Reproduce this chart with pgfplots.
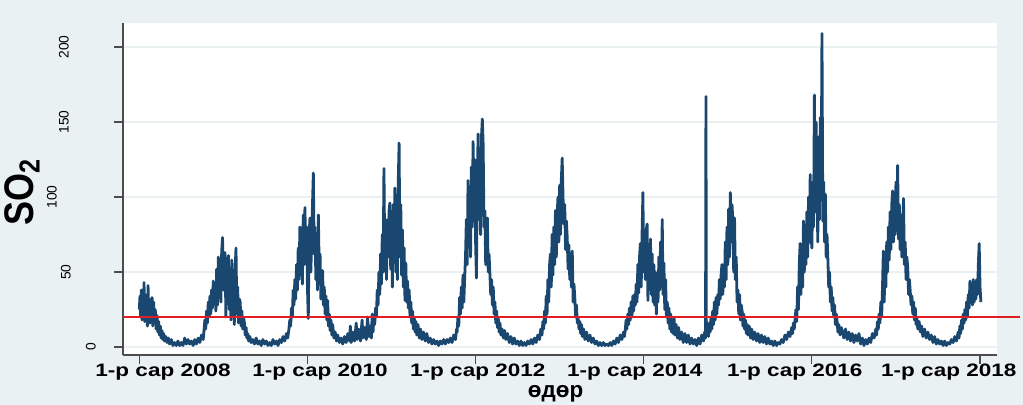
\documentclass[border=0pt]{standalone}
\usepackage{fontspec}
\setmainfont{Liberation Sans}
\usepackage{graphicx}
\usepackage{pgfplots}
\pgfplotsset{compat=1.18}
\definecolor{bgc}{RGB}{234,241,243}
\definecolor{navy}{RGB}{26,71,111}
\definecolor{refred}{RGB}{225,30,35}
\definecolor{gridc}{RGB}{234,240,242}
\begin{document}
\begin{tikzpicture}
\fill[bgc] (0,0) rectangle (511.5pt,202.5pt);
\begin{axis}[
  at={(61.5pt,25pt)}, anchor=south west,
  scale only axis, width=437pt, height=166pt,
  xmin=2007.806, xmax=2018.202, ymin=-5.3, ymax=216,
  axis background/.style={fill=white},
  axis x line*=bottom, axis y line*=left,
  axis line style={black!70, line width=0.6pt},
  tick align=outside, major tick length=4.5pt,
  tick style={black!70, line width=0.6pt},
  xtick={2008,2010,2012,2014,2016,2018},
  xticklabels={,,,,,},
  extra x ticks={2008.282,2010.149,2012.027,2013.894,2015.797,2017.628},
  extra x tick labels={\scalebox{1}[0.8]{1-р сар 2008},\scalebox{1}[0.8]{1-р сар 2010},\scalebox{1}[0.8]{1-р сар 2012},\scalebox{1}[0.8]{1-р сар 2014},\scalebox{1}[0.8]{1-р сар 2016},\scalebox{1}[0.8]{1-р сар 2018}},
  extra x tick style={major tick length=0pt, tick style={draw=none}},
  ytick={0,50,100,150,200},
  yticklabels={\raisebox{0pt}{0},\raisebox{12.5pt}{50},\raisebox{19.5pt}{100},\raisebox{13.5pt}{150},\raisebox{13.5pt}{200}},
  ymajorgrids, grid style={gridc, line width=0.6pt},
  xticklabel style={anchor=north, inner sep=0pt, yshift=-4.5pt, font=\fontsize{11.25}{12}\selectfont\bfseries},
  yticklabel style={xshift=-9pt, rotate=90, anchor=south, inner sep=0pt, font=\fontsize{6.9}{8}\selectfont},
  xlabel={өдөр},
  ylabel={\scalebox{1}[1.15]{SO\textsubscript{2}}},
  xlabel style={at={(axis description cs:0.495,-0.117)}, anchor=center, inner sep=0pt, font=\fontsize{11.2}{13}\selectfont\bfseries},
  ylabel style={at={(axis description cs:-0.1156,0.491)}, anchor=center, inner sep=0pt, font=\fontsize{18}{20}\selectfont\bfseries},
  clip=false,
]
\addplot[navy, line width=1.4pt, line join=round] coordinates {
(2008.000,25) (2008.008,34) (2008.016,20) (2008.024,38) (2008.032,18) (2008.040,30) (2008.048,22) (2008.056,43) (2008.064,17) (2008.072,35)
(2008.080,24) (2008.088,28) (2008.096,14) (2008.104,41) (2008.112,20) (2008.120,32) (2008.128,16) (2008.136,27) (2008.144,19) (2008.152,33)
(2008.160,14) (2008.170,30) (2008.180,16) (2008.190,25) (2008.200,12) (2008.210,21) (2008.220,10) (2008.230,17) (2008.240,8) (2008.250,14)
(2008.260,6) (2008.270,11) (2008.280,5) (2008.290,9) (2008.300,4) (2008.315,7) (2008.330,3) (2008.345,6) (2008.360,2) (2008.380,5)
(2008.400,1) (2008.420,3) (2008.440,1) (2008.460,4) (2008.480,1) (2008.500,3) (2008.520,1) (2008.540,6) (2008.560,2) (2008.580,5)
(2008.600,2) (2008.620,4) (2008.640,1) (2008.660,5) (2008.680,2) (2008.700,6) (2008.720,3) (2008.740,8) (2008.760,5)
(2008.780,18) (2008.790,12) (2008.800,24) (2008.810,16) (2008.820,30) (2008.830,20) (2008.840,34) (2008.850,22) (2008.860,38) (2008.870,26)
(2008.880,44) (2008.890,30) (2008.900,42) (2008.910,24) (2008.920,52) (2008.930,28) (2008.940,60) (2008.950,34) (2008.960,55) (2008.970,30)
(2008.980,64) (2008.990,73) (2009.000,38) (2009.010,58) (2009.020,63) (2009.030,20) (2009.040,55) (2009.050,30) (2009.060,61) (2009.070,25)
(2009.080,50) (2009.090,18) (2009.100,58) (2009.110,28) (2009.120,45) (2009.130,15) (2009.140,52) (2009.150,66) (2009.160,22) (2009.170,40)
(2009.180,16) (2009.190,32) (2009.200,30) (2009.210,14) (2009.220,24) (2009.230,12) (2009.240,20) (2009.250,16) (2009.260,8) (2009.270,13)
(2009.280,6) (2009.290,9) (2009.300,4) (2009.315,7) (2009.330,3) (2009.350,5) (2009.370,2) (2009.390,6) (2009.410,2) (2009.430,4)
(2009.450,1) (2009.470,5) (2009.490,2) (2009.510,4) (2009.530,1) (2009.550,3) (2009.570,1) (2009.590,5) (2009.610,2) (2009.630,4)
(2009.650,1) (2009.670,5) (2009.690,3) (2009.710,7) (2009.730,4) (2009.750,9) (2009.765,6)
(2009.780,12) (2009.790,18) (2009.800,14) (2009.810,26) (2009.820,20) (2009.830,38) (2009.840,28) (2009.850,45) (2009.860,32) (2009.870,55)
(2009.880,38) (2009.890,66) (2009.900,45) (2009.910,80) (2009.920,50) (2009.930,72) (2009.940,42) (2009.950,88) (2009.960,55) (2009.970,93)
(2009.980,60) (2009.990,80) (2010.000,40) (2010.010,19) (2010.020,75) (2010.030,86) (2010.040,50) (2010.050,70) (2010.060,95) (2010.070,116)
(2010.080,62) (2010.090,80) (2010.100,45) (2010.110,70) (2010.120,38) (2010.130,88) (2010.140,50) (2010.150,62) (2010.160,32) (2010.170,45)
(2010.180,51) (2010.190,28) (2010.200,40) (2010.210,22) (2010.220,34) (2010.230,18) (2010.240,31) (2010.250,14) (2010.260,22) (2010.270,11)
(2010.280,18) (2010.290,8) (2010.300,15) (2010.315,6) (2010.330,10) (2010.345,4) (2010.360,8) (2010.380,3) (2010.400,6) (2010.420,2)
(2010.440,7) (2010.460,3) (2010.480,9) (2010.500,4) (2010.510,14) (2010.520,3) (2010.540,10) (2010.560,4) (2010.580,16) (2010.590,5)
(2010.610,12) (2010.630,4) (2010.650,18) (2010.660,6) (2010.680,13) (2010.700,5) (2010.715,20) (2010.730,7) (2010.745,14) (2010.760,6)
(2010.770,22) (2010.780,10) (2010.790,20) (2010.800,15) (2010.810,26) (2010.820,20) (2010.830,38) (2010.840,28) (2010.850,50) (2010.860,35)
(2010.870,62) (2010.880,42) (2010.890,75) (2010.900,50) (2010.910,119) (2010.920,55) (2010.930,85) (2010.940,45) (2010.950,78) (2010.960,60)
(2010.970,90) (2010.980,96) (2010.990,52) (2011.000,82) (2011.010,40) (2011.020,95) (2011.030,58) (2011.040,106) (2011.050,50) (2011.060,88)
(2011.070,45) (2011.080,110) (2011.090,136) (2011.100,60) (2011.110,95) (2011.120,48) (2011.130,78) (2011.140,40) (2011.150,66) (2011.160,31)
(2011.170,56) (2011.180,30) (2011.190,44) (2011.200,26) (2011.210,38) (2011.220,20) (2011.230,30) (2011.240,16) (2011.250,24) (2011.260,12)
(2011.270,20) (2011.280,10) (2011.290,17) (2011.300,8) (2011.315,15) (2011.330,6) (2011.345,12) (2011.360,5) (2011.380,10) (2011.400,4)
(2011.420,9) (2011.440,3) (2011.460,6) (2011.480,2) (2011.500,5) (2011.520,2) (2011.540,4) (2011.560,1) (2011.580,4) (2011.600,2)
(2011.620,5) (2011.640,2) (2011.660,5) (2011.680,3) (2011.700,6) (2011.720,3) (2011.740,8) (2011.760,5) (2011.775,12)
(2011.780,10) (2011.790,20) (2011.800,14) (2011.810,33) (2011.820,22) (2011.830,40) (2011.840,26) (2011.850,48) (2011.860,30) (2011.870,46)
(2011.880,60) (2011.890,85) (2011.900,55) (2011.910,111) (2011.920,70) (2011.930,100) (2011.940,60) (2011.950,120) (2011.960,80) (2011.970,137)
(2011.980,90) (2011.990,125) (2012.000,70) (2012.010,46) (2012.020,110) (2012.030,142) (2012.040,85) (2012.050,130) (2012.060,75) (2012.070,140)
(2012.080,152) (2012.090,135) (2012.100,80) (2012.110,91) (2012.120,55) (2012.130,75) (2012.140,86) (2012.150,50) (2012.160,62) (2012.170,49)
(2012.180,35) (2012.190,45) (2012.200,28) (2012.210,40) (2012.220,22) (2012.230,30) (2012.240,16) (2012.250,24) (2012.260,13) (2012.270,19)
(2012.280,10) (2012.290,16) (2012.300,8) (2012.315,12) (2012.330,6) (2012.345,11) (2012.360,5) (2012.380,9) (2012.400,3) (2012.420,7)
(2012.440,2) (2012.460,6) (2012.480,2) (2012.500,4) (2012.520,1) (2012.540,4) (2012.560,1) (2012.580,3) (2012.600,1) (2012.620,4)
(2012.640,2) (2012.660,5) (2012.680,2) (2012.700,6) (2012.720,3) (2012.740,8) (2012.760,5) (2012.775,12) (2012.790,8) (2012.800,17)
(2012.810,12) (2012.820,24) (2012.830,16) (2012.840,34) (2012.850,22) (2012.860,45) (2012.870,30) (2012.880,55) (2012.890,62) (2012.900,40)
(2012.910,75) (2012.920,48) (2012.930,80) (2012.940,55) (2012.950,91) (2012.960,60) (2012.970,88) (2012.980,100) (2012.990,70) (2013.000,108)
(2013.010,75) (2013.020,112) (2013.030,126) (2013.040,100) (2013.050,82) (2013.060,95) (2013.070,65) (2013.080,84) (2013.090,73) (2013.100,52)
(2013.110,68) (2013.120,45) (2013.130,60) (2013.140,40) (2013.150,64) (2013.160,30) (2013.170,42) (2013.180,33) (2013.190,20) (2013.200,28)
(2013.210,16) (2013.220,19) (2013.230,12) (2013.240,17) (2013.250,9) (2013.260,15) (2013.270,7) (2013.285,12) (2013.300,5) (2013.320,10)
(2013.340,4) (2013.360,8) (2013.380,3) (2013.400,6) (2013.420,2) (2013.440,4) (2013.460,1) (2013.480,3) (2013.500,1) (2013.520,3)
(2013.540,1) (2013.560,2) (2013.580,1) (2013.600,3) (2013.620,1) (2013.640,4) (2013.660,2) (2013.680,6) (2013.700,3) (2013.720,8)
(2013.740,5) (2013.760,10) (2013.770,7) (2013.780,11) (2013.790,18) (2013.800,12) (2013.810,22) (2013.820,15) (2013.830,26) (2013.840,18)
(2013.850,30) (2013.860,20) (2013.870,34) (2013.880,24) (2013.890,35) (2013.900,28) (2013.910,42) (2013.920,30) (2013.930,55) (2013.940,36)
(2013.950,60) (2013.960,69) (2013.970,40) (2013.980,75) (2013.990,103) (2014.000,50) (2014.010,70) (2014.020,45) (2014.030,78) (2014.040,82)
(2014.050,31) (2014.060,66) (2014.070,40) (2014.080,72) (2014.090,35) (2014.100,62) (2014.110,30) (2014.120,55) (2014.130,28) (2014.140,50)
(2014.150,22) (2014.160,45) (2014.170,30) (2014.180,60) (2014.190,38) (2014.200,70) (2014.210,40) (2014.220,85) (2014.230,35) (2014.240,56)
(2014.250,25) (2014.260,45) (2014.270,20) (2014.280,30) (2014.290,16) (2014.300,26) (2014.310,12) (2014.320,22) (2014.330,10) (2014.340,18)
(2014.350,9) (2014.360,20) (2014.370,8) (2014.385,15) (2014.400,6) (2014.415,13) (2014.430,5) (2014.450,10) (2014.470,3) (2014.490,9)
(2014.510,3) (2014.530,8) (2014.550,2) (2014.570,6) (2014.590,2) (2014.610,5) (2014.630,1) (2014.650,6) (2014.670,2) (2014.690,8)
(2014.710,4) (2014.725,10) (2014.735,6) (2014.740,167) (2014.745,8) (2014.760,12) (2014.770,7) (2014.780,16) (2014.790,10) (2014.800,20)
(2014.810,12) (2014.820,24) (2014.830,15) (2014.840,30) (2014.850,18) (2014.860,33) (2014.870,22) (2014.880,35) (2014.890,28) (2014.900,45)
(2014.910,32) (2014.920,48) (2014.930,55) (2014.940,35) (2014.950,52) (2014.960,40) (2014.970,70) (2014.980,45) (2014.990,80) (2015.000,55)
(2015.010,92) (2015.020,60) (2015.030,103) (2015.040,70) (2015.050,95) (2015.060,84) (2015.070,50) (2015.080,86) (2015.090,45) (2015.100,60)
(2015.110,30) (2015.120,38) (2015.130,22) (2015.140,35) (2015.150,18) (2015.160,28) (2015.170,24) (2015.180,14) (2015.190,22) (2015.200,12)
(2015.210,18) (2015.220,9) (2015.230,15) (2015.240,8) (2015.255,14) (2015.270,6) (2015.285,12) (2015.300,5) (2015.320,10) (2015.340,4)
(2015.360,9) (2015.380,3) (2015.400,8) (2015.420,3) (2015.440,7) (2015.460,2) (2015.480,6) (2015.500,2) (2015.520,4) (2015.540,1)
(2015.560,4) (2015.580,1) (2015.600,3) (2015.620,2) (2015.640,5) (2015.660,3) (2015.680,8) (2015.700,5) (2015.720,10) (2015.740,7)
(2015.760,13) (2015.770,9) (2015.780,16) (2015.790,12) (2015.800,18) (2015.810,25) (2015.820,17) (2015.830,40) (2015.840,25) (2015.850,55)
(2015.860,69) (2015.870,35) (2015.880,60) (2015.890,40) (2015.900,84) (2015.910,50) (2015.920,78) (2015.930,55) (2015.940,90) (2015.950,60)
(2015.960,100) (2015.970,70) (2015.980,115) (2015.990,75) (2016.000,66) (2016.010,110) (2016.020,80) (2016.030,168) (2016.040,90) (2016.050,150)
(2016.060,117) (2016.070,70) (2016.080,140) (2016.090,85) (2016.100,153) (2016.110,100) (2016.120,209) (2016.130,84) (2016.140,110) (2016.150,70)
(2016.160,102) (2016.170,60) (2016.180,75) (2016.190,59) (2016.200,40) (2016.210,50) (2016.220,30) (2016.230,40) (2016.240,24) (2016.250,33)
(2016.260,20) (2016.270,28) (2016.280,15) (2016.290,22) (2016.300,17) (2016.310,10) (2016.320,15) (2016.335,8) (2016.350,13) (2016.365,10)
(2016.380,6) (2016.400,12) (2016.420,5) (2016.440,10) (2016.460,4) (2016.480,9) (2016.500,3) (2016.520,8) (2016.540,4) (2016.560,9)
(2016.580,2) (2016.600,6) (2016.620,1) (2016.640,5) (2016.660,2) (2016.680,6) (2016.700,3) (2016.720,9) (2016.740,6) (2016.760,12)
(2016.770,8) (2016.780,17) (2016.790,12) (2016.800,22) (2016.810,16) (2016.820,30) (2016.830,20) (2016.840,40) (2016.850,64) (2016.860,30)
(2016.870,55) (2016.880,40) (2016.890,70) (2016.900,50) (2016.910,80) (2016.920,58) (2016.930,90) (2016.940,65) (2016.950,95) (2016.960,104)
(2016.970,70) (2016.980,100) (2016.990,75) (2017.000,110) (2017.010,80) (2017.020,121) (2017.030,72) (2017.040,95) (2017.050,65) (2017.060,88)
(2017.070,60) (2017.080,80) (2017.090,99) (2017.100,55) (2017.110,70) (2017.120,45) (2017.130,60) (2017.140,53) (2017.150,35) (2017.160,45)
(2017.170,37) (2017.180,28) (2017.190,34) (2017.200,22) (2017.210,30) (2017.220,18) (2017.230,26) (2017.240,15) (2017.250,19) (2017.260,12)
(2017.275,17) (2017.290,10) (2017.305,14) (2017.320,7) (2017.340,12) (2017.360,6) (2017.380,10) (2017.400,5) (2017.420,8) (2017.440,3)
(2017.460,7) (2017.480,2) (2017.500,5) (2017.520,2) (2017.540,4) (2017.560,1) (2017.580,4) (2017.600,1) (2017.620,3) (2017.640,2)
(2017.660,5) (2017.680,3) (2017.700,7) (2017.720,4) (2017.740,10) (2017.750,6) (2017.760,14) (2017.770,9) (2017.780,18) (2017.790,12)
(2017.800,22) (2017.810,16) (2017.820,25) (2017.830,18) (2017.840,30) (2017.850,20) (2017.860,35) (2017.870,26) (2017.880,44) (2017.890,30)
(2017.900,42) (2017.910,28) (2017.920,45) (2017.930,30) (2017.940,40) (2017.950,32) (2017.960,45) (2017.970,35) (2017.980,55) (2017.990,69)
(2018.000,40) (2018.010,30)
};
\addplot[refred, line width=1pt] coordinates {(2007.806,20) (2018.475,20)};
\end{axis}
\end{tikzpicture}
\end{document}
